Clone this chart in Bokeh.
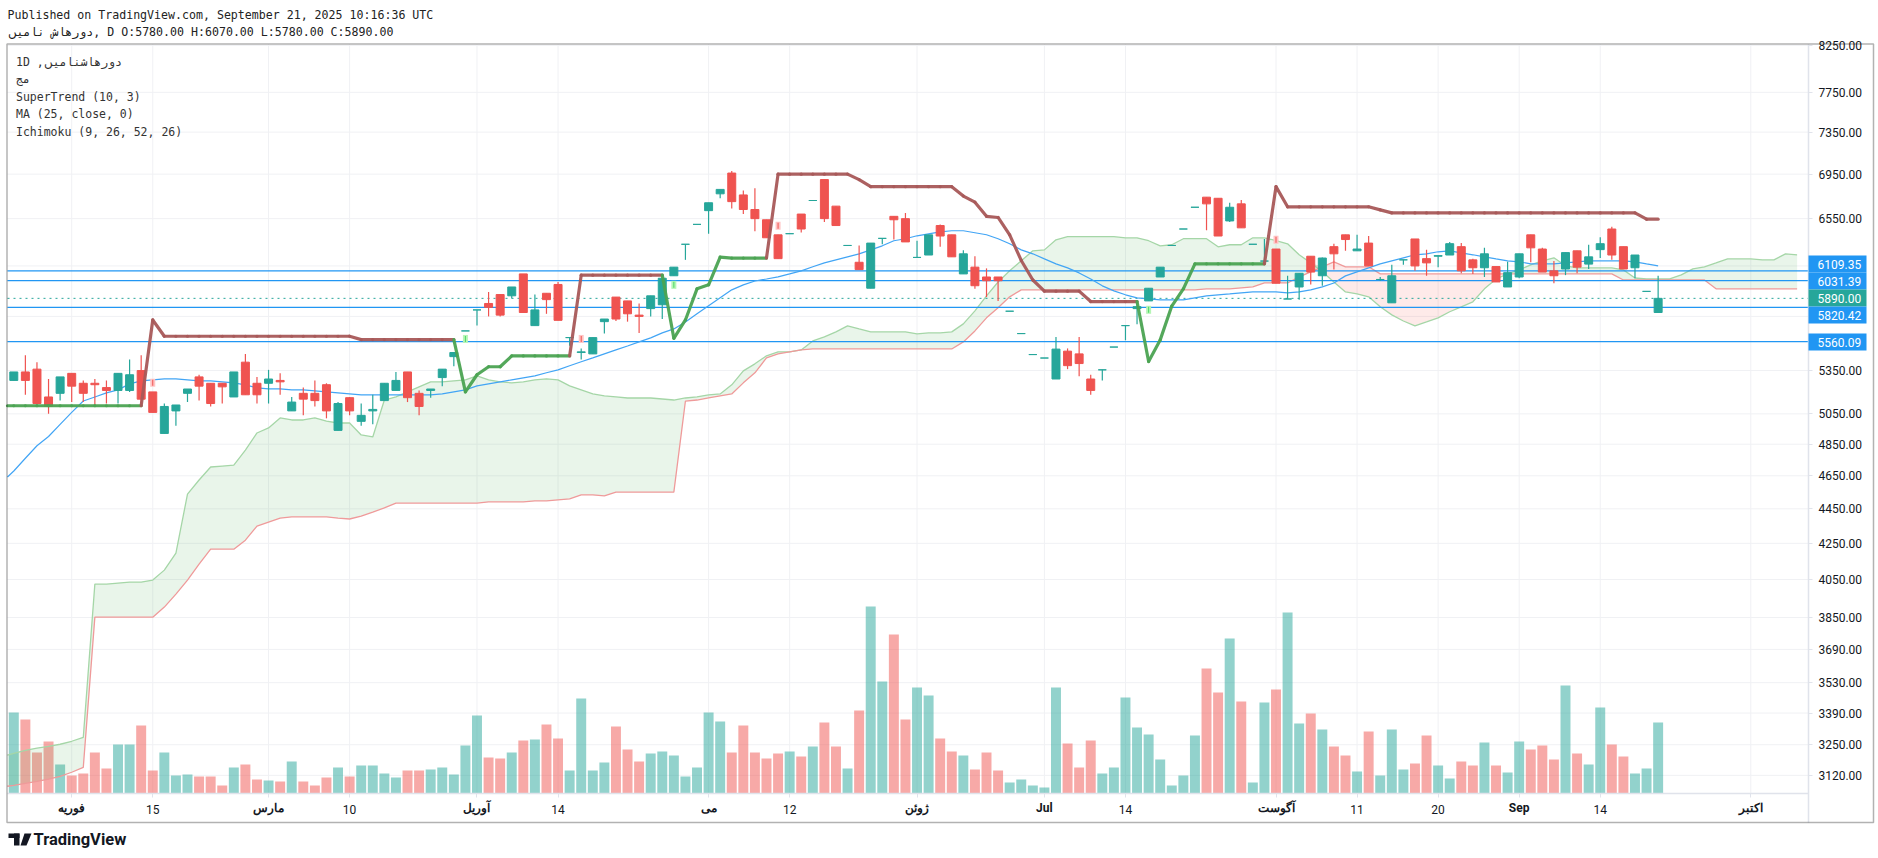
from bokeh.embed import file_html
from bokeh.models import (BoxAnnotation, FixedTicker, Label, LinearAxis, LinearScale, LogAxis,
                          PolyAnnotation, PrintfTickFormatter, Range1d)
from bokeh.plotting import figure
from bokeh.resources import INLINE
import numpy as np

# candles
candle_open = [
    5280, 5340, 5360, 5165, 5190, 5330, 5260, 5260, 5230, 5210,
    5210, 5350, 5200, 4920, 5070, 5190, 5305, 5260, 5260, 5165,
    5410, 5260, 5260, 5280, 5070, 5190, 5190, 5250, 4940, 5160,
    5000, 5070, 5140, 5210, 5340, 5190, 5210, 5300, 5450, 5640,
    5800, 5850, 5920, 5910, 6085, 5680, 5930, 6000, 5590, 5480,
    5470, 5710, 5900, 5870, 5760, 5810, 5840, 6070, 6330, 6500,
    6620, 6770, 6960, 6760, 6630, 6540, 6410, 6420, 6590, 6710,
    6900, 6660, 6320, 6180, 5970, 6380, 6570, 6550, 6220, 6240,
    6490, 6410, 6085, 6140, 6060, 6060, 5790, 5620, 5465, 5440,
    5290, 5490, 5470, 5290, 5355, 5520, 5680, 5810, 5870, 6060,
    6320, 6460, 6650, 6740, 6730, 6530, 6680, 6330, 6190, 6290,
    5885, 5980, 6230, 6070, 6310, 6410, 6275, 6340, 6040, 5855,
    6200, 6375, 6210, 6230, 6240, 6310, 6200, 6135, 6145, 5980,
    6060, 6410, 6290, 6110, 6125, 6275, 6165, 6285, 6460, 6310,
    6135, 5945, 5780,
]
candle_high = [
    5340, 5460, 5410, 5290, 5305, 5330, 5280, 5290, 5280, 5330,
    5430, 5460, 5200, 5120, 5110, 5220, 5320, 5260, 5260, 5340,
    5470, 5305, 5355, 5330, 5165, 5230, 5280, 5260, 5130, 5165,
    5120, 5180, 5260, 5340, 5340, 5210, 5220, 5360, 5480, 5640,
    5800, 5940, 5920, 5980, 6085, 5920, 5930, 6020, 5590, 5510,
    5590, 5730, 5900, 5870, 5850, 5910, 6050, 6140, 6330, 6500,
    6690, 6810, 6980, 6800, 6820, 6540, 6410, 6420, 6590, 6710,
    6900, 6660, 6320, 6320, 6340, 6380, 6570, 6600, 6360, 6410,
    6500, 6410, 6280, 6230, 6130, 6060, 5790, 5620, 5465, 5440,
    5595, 5510, 5595, 5320, 5355, 5520, 5680, 5870, 5970, 6140,
    6320, 6460, 6650, 6740, 6730, 6690, 6715, 6330, 6375, 6290,
    6070, 6090, 6230, 6220, 6335, 6410, 6410, 6400, 6060, 6160,
    6200, 6375, 6285, 6235, 6350, 6340, 6210, 6300, 6145, 6185,
    6250, 6410, 6300, 6190, 6260, 6275, 6325, 6390, 6480, 6310,
    6240, 5945, 6070,
]
candle_low = [
    5280, 5180, 5100, 5050, 5140, 5130, 5130, 5110, 5120, 5120,
    5200, 5100, 5060, 4920, 4970, 5130, 5140, 5100, 5120, 5165,
    5180, 5120, 5120, 5180, 5070, 5040, 5100, 5020, 4940, 5040,
    4970, 4980, 5140, 5210, 5130, 5040, 5160, 5240, 5380, 5640,
    5680, 5750, 5750, 5890, 5780, 5680, 5770, 5720, 5530, 5430,
    5470, 5620, 5715, 5710, 5625, 5750, 5730, 6070, 6200, 6500,
    6420, 6730, 6640, 6590, 6440, 6385, 6210, 6420, 6430, 6710,
    6520, 6490, 6320, 6120, 5970, 6330, 6370, 6350, 6220, 6240,
    6310, 6225, 6085, 5965, 5900, 5870, 5790, 5620, 5465, 5440,
    5290, 5360, 5310, 5180, 5280, 5520, 5570, 5690, 5870, 6060,
    6320, 6460, 6650, 6450, 6400, 6520, 6470, 6330, 6160, 6010,
    5885, 5880, 6000, 5990, 6120, 6275, 6275, 6150, 6030, 5855,
    6160, 6110, 6070, 6140, 6240, 6090, 6085, 6060, 6020, 5980,
    6050, 6180, 6100, 6010, 6075, 6090, 6125, 6215, 6200, 6125,
    6050, 5945, 5780,
]
candle_close = [
    5340, 5280, 5120, 5100, 5305, 5240, 5190, 5250, 5210, 5330,
    5320, 5150, 5060, 5100, 5110, 5220, 5240, 5120, 5235, 5340,
    5180, 5180, 5290, 5270, 5130, 5150, 5140, 5070, 5120, 5070,
    5040, 5080, 5260, 5280, 5160, 5100, 5220, 5360, 5480, 5640,
    5800, 5820, 5760, 5980, 5780, 5800, 5880, 5720, 5590, 5485,
    5590, 5730, 5730, 5770, 5750, 5910, 6050, 6140, 6330, 6500,
    6690, 6810, 6700, 6630, 6550, 6385, 6210, 6420, 6460, 6710,
    6550, 6490, 6320, 6120, 6340, 6380, 6540, 6350, 6220, 6410,
    6400, 6225, 6250, 5990, 6030, 6030, 5790, 5620, 5465, 5440,
    5505, 5385, 5400, 5210, 5355, 5520, 5680, 5825, 5970, 6140,
    6320, 6460, 6650, 6680, 6400, 6650, 6470, 6330, 6190, 6010,
    5885, 6090, 6100, 6215, 6250, 6370, 6290, 6150, 6040, 6070,
    6200, 6150, 6175, 6235, 6335, 6110, 6135, 6250, 6020, 6095,
    6250, 6300, 6100, 6070, 6260, 6140, 6225, 6335, 6240, 6125,
    6240, 5945, 5890,
]
# volume, arbitrary units
volume = [
    81, 74, 41, 52, 29, 18, 20, 41, 25, 49,
    49, 68, 23, 41, 18, 19, 17, 17, 8, 26,
    29, 14, 13, 12, 32, 12, 8, 16, 26, 17,
    28, 28, 20, 16, 23, 23, 24, 26, 19, 48,
    78, 36, 35, 41, 53, 54, 69, 55, 23, 95,
    23, 31, 67, 44, 32, 40, 42, 38, 17, 26,
    81, 72, 41, 68, 41, 35, 40, 42, 37, 47,
    71, 47, 25, 83, 187, 112, 159, 74, 106, 98,
    55, 42, 38, 24, 41, 23, 11, 14, 8, 6,
    106, 50, 26, 53, 20, 26, 96, 66, 59, 34,
    8, 18, 58, 125, 101, 155, 92, 11, 91, 104,
    181, 70, 80, 64, 47, 38, 22, 62, 18, 64,
    24, 30, 58, 28, 15, 32, 28, 51, 28, 21,
    52, 44, 48, 34, 108, 40, 29, 86, 49, 37,
    20, 25, 71,
]
supertrend = [
    5105, 5105, 5105, 5105, 5105, 5105, 5105, 5105, 5105, 5105,
    5105, 5105, 5723, 5600, 5600, 5600, 5600, 5600, 5600, 5600,
    5600, 5600, 5600, 5600, 5600, 5600, 5600, 5600, 5600, 5600,
    5575, 5575, 5575, 5575, 5575, 5575, 5575, 5575, 5575, 5200,
    5320, 5377, 5377, 5455, 5455, 5455, 5455, 5455, 5455, 6075,
    6075, 6075, 6075, 6075, 6075, 6075, 6075, 5585, 5723, 5965,
    5997, 6222, 6215, 6215, 6215, 6215, 6950, 6950, 6950, 6950,
    6950, 6950, 6950, 6899, 6835, 6835, 6835, 6835, 6835, 6835,
    6835, 6835, 6750, 6695, 6570, 6560, 6410, 6195, 6036, 5947,
    5947, 5947, 5947, 5865, 5865, 5865, 5865, 5865, 5415, 5573,
    5830, 5965, 6167, 6167, 6167, 6167, 6167, 6167, 6167, 6835,
    6654, 6654, 6654, 6654, 6654, 6654, 6654, 6654, 6627, 6600,
    6600, 6600, 6600, 6600, 6600, 6600, 6600, 6600, 6600, 6600,
    6600, 6600, 6600, 6600, 6600, 6600, 6600, 6600, 6600, 6600,
    6600, 6545, 6545,
]
trend_flip_bars = [12, 39, 49, 57, 66, 98, 109]  # first bar is bull, then swaps at each
buy_bars = [39, 57, 98]
buy_prices = [5580, 5997, 5801]
sell_bars = [12, 49, 66, 109]
sell_prices = [5263, 5580, 6488, 6368]
ma25 = [
    4680, 4760, 4840, 4900, 4980, 5060, 5137, 5165, 5193, 5214,
    5256, 5277, 5284, 5291, 5291, 5284, 5277, 5277, 5270, 5263,
    5249, 5228, 5221, 5221, 5214, 5214, 5207, 5200, 5193, 5186,
    5179, 5179, 5179, 5179, 5179, 5179, 5179, 5186, 5200, 5214,
    5242, 5256, 5270, 5284, 5298, 5312, 5334, 5355, 5384, 5413,
    5441, 5470, 5499, 5528, 5558, 5588, 5625, 5655, 5708, 5770,
    5832, 5894, 5957, 5997, 6028, 6044, 6061, 6085, 6110, 6143,
    6175, 6200, 6225, 6250, 6283, 6317, 6360, 6377, 6402, 6419,
    6436, 6445, 6445, 6428, 6411, 6377, 6334, 6283, 6250, 6208,
    6167, 6134, 6093, 6044, 5989, 5949, 5918, 5894, 5886, 5878,
    5878, 5878, 5894, 5910, 5918, 5925, 5933, 5941, 5941, 5941,
    5933, 5941, 5957, 5981, 6012, 6069, 6102, 6134, 6167, 6192,
    6217, 6242, 6250, 6267, 6275, 6258, 6242, 6225, 6208, 6192,
    6184, 6167, 6167, 6167, 6175, 6184, 6192, 6192, 6192, 6192,
    6184, 6167, 6151,
]
span_a = [
    3213, 3226, 3235, 3243, 3252, 3265, 3282, 4025, 4025, 4031,
    4036, 4036, 4047, 4101, 4195, 4538, 4624, 4705, 4711, 4717,
    4812, 4923, 4956, 5023, 5009, 5009, 5023, 5002, 4989, 4989,
    4910, 4897, 5144, 5165, 5200, 5235, 5270, 5270, 5277, 5284,
    5312, 5284, 5270, 5263, 5270, 5284, 5291, 5284, 5242, 5214,
    5186, 5172, 5165, 5158, 5158, 5158, 5151, 5144, 5158, 5165,
    5179, 5186, 5249, 5348, 5398, 5456, 5485, 5485, 5499, 5565,
    5595, 5633, 5678, 5655, 5633, 5633, 5633, 5633, 5618, 5625,
    5625, 5633, 5693, 5793, 5910, 6020, 6110, 6192, 6275, 6283,
    6368, 6394, 6394, 6394, 6394, 6394, 6385, 6385, 6360, 6317,
    6326, 6377, 6377, 6377, 6309, 6326, 6326, 6385, 6385, 6360,
    6334, 6242, 6175, 6102, 6020, 5941, 5925, 5902, 5824, 5762,
    5715, 5678, 5708, 5739, 5786, 5824, 5863, 5965, 6044, 6085,
    6118, 6159, 6192, 6217, 6151, 6134, 6134, 6134, 6134, 6118,
    6052, 6044, 6044, 6044, 6077, 6126, 6143, 6175, 6208, 6208,
    6208, 6200, 6200, 6250, 6242,
]
span_b = [
    3079, 3087, 3095, 3104, 3116, 3133, 3153, 3852, 3852, 3852,
    3852, 3852, 3852, 3904, 3972, 4047, 4134, 4217, 4217, 4217,
    4268, 4349, 4372, 4395, 4402, 4402, 4402, 4402, 4395, 4390,
    4407, 4430, 4455, 4484, 4484, 4484, 4484, 4484, 4484, 4484,
    4484, 4491, 4491, 4491, 4491, 4497, 4497, 4503, 4509, 4533,
    4533, 4527, 4550, 4550, 4550, 4550, 4550, 4550, 5137, 5144,
    5158, 5172, 5186, 5263, 5334, 5441, 5470, 5485, 5499, 5506,
    5506, 5506, 5506, 5506, 5506, 5506, 5506, 5506, 5506, 5506,
    5506, 5506, 5558, 5640, 5739, 5817, 5902, 5957, 5957, 5957,
    5957, 5957, 5957, 5957, 5957, 5957, 5957, 5957, 5957, 5957,
    5957, 5957, 5957, 5965, 5965, 5965, 5973, 5981, 6012, 6012,
    6012, 6061, 6102, 6143, 6184, 6143, 6143, 6143, 6085, 6085,
    6085, 6085, 6085, 6085, 6085, 6085, 6085, 6085, 6085, 6085,
    6085, 6085, 6085, 6085, 6085, 6085, 6085, 6085, 6085, 6036,
    6036, 6036, 6036, 6036, 6036, 6036, 6036, 5965, 5965, 5965,
    5965, 5965, 5965, 5965, 5965,
]
# where the lines enter the pane, left of the first visible bar
ma25_at_edge = 4643
supertrend_at_edge = 5105
span_a_at_edge = 3205
span_b_at_edge = 3075
line_levels = [6109.35, 6031.39, 5820.42, 5560.09]
last_close = 5890.0
price_ticks = [8250, 7750, 7350, 6950, 6550, 6150, 5750, 5350, 5050, 4850, 4650, 4450,
               4250, 4050, 3850, 3690, 3530, 3390, 3250, 3120]
day_ticks = {12: "15", 29: "10", 47: "14", 67: "12", 96: "14", 116: "11", 123: "20", 137: "14"}
month_ticks = {5: "فوریه", 22: "مارس", 40: "آوریل", 60: "می", 78: "ژوئن", 89: "Jul",
               109: "آگوست", 130: "Sep", 150: "اکتبر"}
header_lines = ["Published on TradingView.com, September 21, 2025 10:16:36 UTC",
                "دورهاش نامیں, D O:5780.00 H:6070.00 L:5780.00 C:5890.00"]
legend_lines = ["1D ,دورهاشنامیں", "مج", "SuperTrend (10, 3)", "MA (25, close, 0)",
                "Ichimoku (9, 26, 52, 26)"]

TEAL = "#26a69a"
RED = "#ef5350"
BLUE = "#2196f3"
GRID = "#f0f1f4"
AXIS = "#e0e3eb"
MONO = "DejaVu Sans Mono"
SANS = "Roboto"

# the frame fills the whole canvas so nothing outside the chart pane gets clipped;
# these are the edges of the pane in data units
PANE_LEFT, PANE_RIGHT = -0.544, 154.98
PANE_BOTTOM, PANE_TOP = 3045.6, 8260
BOX_BOTTOM = 2930

p = figure(width=1878, height=858, output_backend="svg", toolbar_location=None, tools="",
           y_axis_type="log", x_axis_location=None, y_axis_location=None,
           x_range=Range1d(-1.1485, 161.03), y_range=Range1d(2792.9, 8758.6),
           min_border=0, background_fill_color="white", border_fill_color="white")
p.outline_line_color = None
p.grid.visible = False
p.extra_y_ranges = {"vol": Range1d(-65, 793)}
p.extra_y_scales = {"vol": LinearScale()}

# grid, kept inside the pane
grid_x = sorted(list(day_ticks) + list(month_ticks))
p.segment(grid_x, PANE_BOTTOM, grid_x, PANE_TOP, line_color=GRID, line_width=1)
p.segment(PANE_LEFT, price_ticks, PANE_RIGHT, price_ticks, line_color=GRID, line_width=1)

yax = LogAxis(fixed_location=PANE_RIGHT, bounds=(BOX_BOTTOM, PANE_TOP),
              ticker=FixedTicker(ticks=price_ticks), formatter=PrintfTickFormatter(format="%.2f"))
xax = LinearAxis(fixed_location=PANE_BOTTOM, ticker=FixedTicker(ticks=grid_x),
                 bounds=(PANE_LEFT, PANE_RIGHT),
                 major_label_overrides={**day_ticks, **{k: " " for k in month_ticks}})
for ax in (xax, yax):
    ax.axis_line_color = AXIS
    ax.axis_line_width = 1.5
    ax.major_tick_line_color = AXIS
    ax.major_tick_out = 4
    ax.major_tick_in = 0
    ax.minor_tick_line_color = None
    ax.major_label_text_font = SANS
    ax.major_label_text_font_size = "12px"
    ax.major_label_text_color = "#131722"
    ax.major_label_standoff = 6
p.add_layout(xax, "below")
p.add_layout(yax, "right")

bars = np.arange(len(candle_close))
opens = np.array(candle_open, dtype=float)
closes = np.array(candle_close, dtype=float)
colors = [TEAL if c >= o else RED for o, c in zip(opens, closes)]

# volume sits under everything
p.vbar(bars, width=0.86, top=volume, bottom=0, y_range_name="vol",
       fill_color=colors, fill_alpha=0.5, line_color=None)

# ichimoku cloud
cloud_x = np.r_[PANE_LEFT, np.arange(len(span_a))]
a = np.r_[span_a_at_edge, span_a].astype(float)
b = np.r_[span_b_at_edge, span_b].astype(float)
p.varea(cloud_x, b, np.maximum(a, b), fill_color="#4caf50", fill_alpha=0.12)
p.varea(cloud_x, a, np.maximum(a, b), fill_color="#f44336", fill_alpha=0.11)
p.line(cloud_x, a, line_color="#a5d6a7", line_width=1.3)
p.line(cloud_x, b, line_color="#ef9a9a", line_width=1.3)

# drawn levels
p.segment(PANE_LEFT, line_levels, PANE_RIGHT, line_levels, line_color=BLUE, line_width=1.2)
p.line([PANE_LEFT, PANE_RIGHT], [last_close, last_close], line_color=TEAL, line_width=1,
       line_dash=[2, 4])

p.line(np.r_[PANE_LEFT, bars], np.r_[ma25_at_edge, ma25], line_color="#42a5f5", line_width=1.2)

# candles
p.segment(bars, candle_high, bars, candle_low, line_color=colors, line_width=1.2)
p.vbar(bars, width=0.69, top=np.maximum(opens, closes), bottom=np.minimum(opens, closes),
       fill_color=colors, line_color=colors, line_width=1)

# supertrend, coloured by the bar each segment runs into
bull = []
state = True
for i in bars:
    if i in trend_flip_bars:
        state = not state
    bull.append(state)
st_x = np.r_[PANE_LEFT, bars]
st_y = np.r_[supertrend_at_edge, supertrend]
p.segment(st_x[:-1], st_y[:-1], st_x[1:], st_y[1:], line_width=3.2,
          line_cap="round", line_alpha=0.95,
          line_color=["#4ba352" if f else "#a85858" for f in bull])

for xs, ys, soft, hard in ((buy_bars, buy_prices, "#b6f5b6", "#4cd964"),
                           (sell_bars, sell_prices, "#ffc4c4", "#ef5350")):
    p.rect(xs, ys, width=5, height=8, width_units="screen", height_units="screen",
           fill_color=soft, line_color=None)
    p.rect(xs, ys, width=1, height=6, width_units="screen", height_units="screen",
           fill_color=hard, line_color=None)


def box(left, right, top, bottom, **kw):
    p.add_layout(BoxAnnotation(left=left, right=right, top=top, bottom=bottom, left_units="canvas",
                               right_units="canvas", top_units="canvas", bottom_units="canvas", **kw))


def text(x, y, s, font=SANS, size="12px", color="#131722", style="normal", align="left",
         x_units="canvas"):
    p.add_layout(Label(x=x, y=y, text=s, x_units=x_units, y_units="canvas",
                       text_font=font, text_font_size=size, text_color=color,
                       text_font_style=style, text_align=align, text_baseline="middle"))


box(6.5, 1873, 43.5, 822, fill_alpha=0, line_color="black", line_width=1.5)

# price boxes on the axis, spread so they do not overlap
box_rows = [(6109.35, 255, BLUE), (6031.39, 272, BLUE), (5890.00, 289, TEAL),
            (5820.42, 306, BLUE), (5560.09, 333, BLUE)]
for value, top, color in box_rows:
    box(1808, 1866, top, top + 17, fill_color=color, fill_alpha=1, line_color=None)
    text(1817, top + 8.5, f"{value:.2f}", color="white")

text(7, 14.5, header_lines[0], font=MONO, size="11.6px", color="#222222")
text(7, 31.5, header_lines[1], font=MONO, size="11.6px", color="#222222")
for n, line in enumerate(legend_lines):
    text(15.5, 61.5 + n * 17.4, line, font=MONO, size="11.5px", color="#333333")

for bar, name in month_ticks.items():
    text(bar, 807, name, style="bold", align="center", x_units="data")

# TradingView mark
box(8, 19, 833, 837.5, fill_color="#131722", fill_alpha=1, line_color=None)
box(13.5, 19, 833, 845, fill_color="#131722", fill_alpha=1, line_color=None)
p.add_layout(PolyAnnotation(xs=[24, 31, 26, 20], ys=[833, 833, 845, 845], xs_units="canvas",
                            ys_units="canvas", fill_color="#131722", fill_alpha=1,
                            line_color=None))
text(33, 839, "TradingView", size="16.5px", style="bold")

open("out.html", "w").write(file_html(p, INLINE))
